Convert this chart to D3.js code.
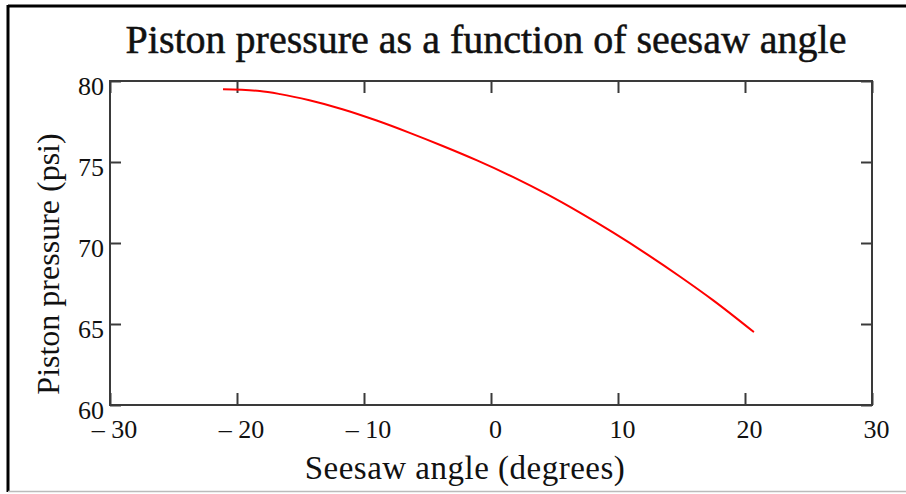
<!DOCTYPE html>
<html>
<head>
<meta charset="utf-8">
<script src="https://cdn.jsdelivr.net/npm/d3@7"></script>
<style>
  body { margin: 0; background: #fff; }
  svg { display: block; }
  text { font-family: "Liberation Serif", "Times New Roman", serif; fill: #111; }
</style>
</head>
<body>
<div id="my_dataviz"></div>
<script>
// Piston pressure vs seesaw angle

var svgwidth = 906
var svgheight = 494
var margin = {"top":81,"right":34,"left":110,"bottom":89};

// DATA
var angles    = [-21.1, -18.2, -16.6, -14.3, -11.7, -9.0, -6.4, -3.8, -1.1, 1.8, 4.4, 7.0, 9.6, 12.3, 14.9, 17.5, 20.7];
var pressures = [79.49, 79.38, 79.19, 78.81, 78.26, 77.56, 76.80, 75.99, 75.10, 74.05, 73.01, 71.87, 70.65, 69.30, 67.92, 66.46, 64.50];
var xTicks = [-30, -20, -10, 0, 10, 20, 30];
var yTicks = [60, 65, 70, 75, 80];

var titleText = "Piston pressure as a function of seesaw angle";
var xLabel = "Seesaw angle (degrees)";
var yLabel = "Piston pressure (psi)";

var data = angles.map(function(a, i) { return {angle: a, p: pressures[i]}; });

var width = svgwidth - margin.left - margin.right;
var height = svgheight - margin.top - margin.bottom;

var svg = d3.select("#my_dataviz")
    .append("svg")
    .attr("width", svgwidth)
    .attr("height", svgheight);

// outer frame (top + left black, bottom grey)
svg.append("line").attr("x1", 8).attr("x2", svgwidth).attr("y1", 6).attr("y2", 6)
    .attr("stroke", "#000").attr("stroke-width", 3);
svg.append("line").attr("x1", 8).attr("x2", 8).attr("y1", 5).attr("y2", 492)
    .attr("stroke", "#000").attr("stroke-width", 3);
svg.append("line").attr("x1", 8).attr("x2", svgwidth).attr("y1", 491.5).attr("y2", 491.5)
    .attr("stroke", "#bbb").attr("stroke-width", 1.5);

var g = svg.append("g")
    .attr("transform", "translate(" + margin.left + "," + margin.top + ")");

var xScale = d3.scaleLinear().domain([-30, 30]).range([0, width]);
var yScale = d3.scaleLinear().domain([60, 80]).range([height, 0]);

function fmtX(d) { return d < 0 ? "\u2013 " + Math.abs(d) : String(d); }

//Create axes (ticks pointing inside)
var xAxis = d3.axisBottom(xScale).tickValues(xTicks).tickSizeInner(-12).tickSizeOuter(0).tickFormat(fmtX);
var xAxisTop = d3.axisTop(xScale).tickValues(xTicks).tickSizeInner(-12).tickSizeOuter(0).tickFormat("");
var yAxis = d3.axisLeft(yScale).tickValues(yTicks).tickSizeInner(-11).tickSizeOuter(0);
var yAxisRight = d3.axisRight(yScale).tickValues(yTicks).tickSizeInner(-11).tickSizeOuter(0).tickFormat("");

var gx = g.append("g").attr("class", "x axis")
    .attr("transform", "translate(0," + height + ")")
    .call(xAxis);
gx.selectAll("text")
    .attr("y", 15).attr("dy", "0.71em").attr("dx", 4)
    .style("font-size", "26px");

g.append("g").attr("class", "x axis top").call(xAxisTop);

var gy = g.append("g").attr("class", "y axis").call(yAxis);
gy.selectAll("text")
    .attr("x", -6).attr("dy", "0.5em")
    .style("font-size", "26px");

g.append("g").attr("class", "y axis right")
    .attr("transform", "translate(" + width + ",0)")
    .call(yAxisRight);

g.selectAll(".axis path, .axis line")
    .attr("stroke", "#3a3a3a").attr("stroke-width", 2);
g.selectAll(".axis .domain").remove();

// plot box
g.append("rect")
    .attr("x", 0).attr("y", 0)
    .attr("width", width).attr("height", height)
    .attr("fill", "none").attr("stroke", "#3a3a3a").attr("stroke-width", 2);

// curve
var line = d3.line()
    .x(function(d) { return xScale(d.angle); })
    .y(function(d) { return yScale(d.p); })
    .curve(d3.curveMonotoneX);

g.append("path")
    .datum(data)
    .attr("d", line)
    .attr("fill", "none")
    .attr("stroke", "#ff0000")
    .attr("stroke-width", 2);

// title
svg.append("text")
    .attr("x", 486).attr("y", 53)
    .attr("text-anchor", "middle")
    .style("font-size", "40px")
    .style("stroke", "#111").style("stroke-width", 0.5)
    .text(titleText);

// x label
svg.append("text")
    .attr("x", 465).attr("y", 479)
    .attr("text-anchor", "middle")
    .style("font-size", "33px")
    .style("letter-spacing", "0.5px")
    .text(xLabel);

// y label
svg.append("text")
    .attr("text-anchor", "middle")
    .attr("transform", "translate(59,264) rotate(-90)")
    .style("font-size", "32px")
    .text(yLabel);
</script>
</body>
</html>
